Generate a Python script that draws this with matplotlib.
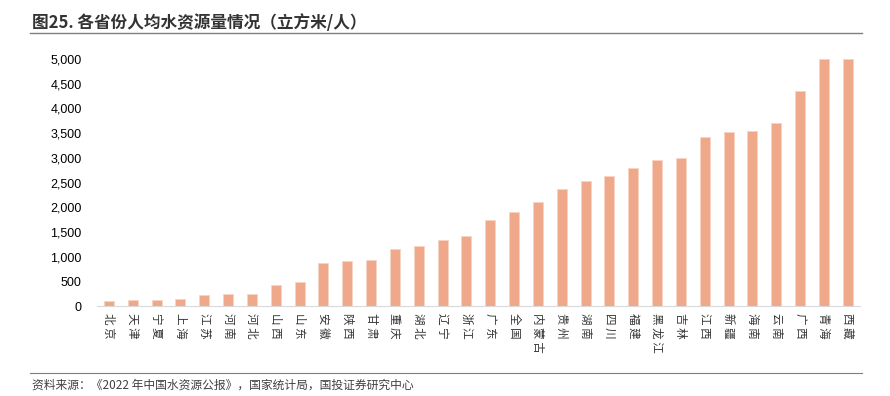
import matplotlib
matplotlib.use('Agg')
import matplotlib.pyplot as plt
from matplotlib.ticker import FuncFormatter

plt.rcParams['font.family'] = ['Liberation Sans', 'Noto Sans CJK SC', 'DejaVu Sans']

provinces = ['北京', '天津', '宁夏', '上海', '江苏', '河南', '河北', '山西', '山东',
             '安徽', '陕西', '甘肃', '重庆', '湖北', '辽宁', '浙江', '广东', '全国',
             '内蒙古', '贵州', '湖南', '四川', '福建', '黑龙江', '吉林', '江西', '新疆',
             '海南', '云南', '广西', '青海', '西藏']
water = [100, 120, 125, 135, 220, 250, 250, 430, 490,
         880, 920, 930, 1160, 1220, 1340, 1420, 1750, 1910,
         2110, 2360, 2540, 2640, 2800, 2960, 3000, 3430, 3530,
         3550, 3710, 4360, 5000, 5000]
y_ticks = list(range(0, 5001, 500))

fig = plt.figure(figsize=(8.9, 3.96), dpi=100)
ax = fig.add_axes([0.109, 0.227, 0.857, 0.624])

x = range(len(provinces))
ax.bar(x, water, width=0.42, color='#EFA98A', edgecolor='#F8D4C4', linewidth=0.6)

ax.set_xlim(-0.5, len(provinces) - 0.5)
ax.set_ylim(0, 5000)
ax.set_yticks(y_ticks)
ax.yaxis.set_major_formatter(FuncFormatter(lambda v, p: f'{int(v):,}'))
ax.set_xticks(list(x))
# rotated labels, reading top to bottom, a little letter spacing
ax.set_xticklabels([' '.join(p) for p in provinces], fontsize=8.3,
                   family=['Noto Sans CJK SC'], rotation=270, va='top',
                   ha='center', color='#333333')

for s in ['top', 'right', 'left']:
    ax.spines[s].set_visible(False)
ax.spines['bottom'].set_color('#D9D9D9')
ax.tick_params(axis='y', length=0, labelsize=9, pad=11)
ax.tick_params(axis='x', length=0, pad=5)

# title and rules
fig.text(0.036, 0.92, '图25. 各省份人均水资源量情况（立方米/人）', fontsize=12,
         fontweight='bold', color='#333333', va='bottom',
         family=['Noto Sans CJK SC'])
fig.add_artist(plt.Line2D([0.034, 0.968], [0.917, 0.917], color='#7F7F7F', linewidth=1.0))
fig.add_artist(plt.Line2D([0.034, 0.968], [0.058, 0.058], color='#7F7F7F', linewidth=0.8))
fig.text(0.036, 0.045, '资料来源：《2022 年中国水资源公报》，国家统计局，国投证券研究中心',
         fontsize=8.5, color='#404040', va='top', family=['Noto Sans CJK SC'])

fig.savefig('out.png', dpi=100)
